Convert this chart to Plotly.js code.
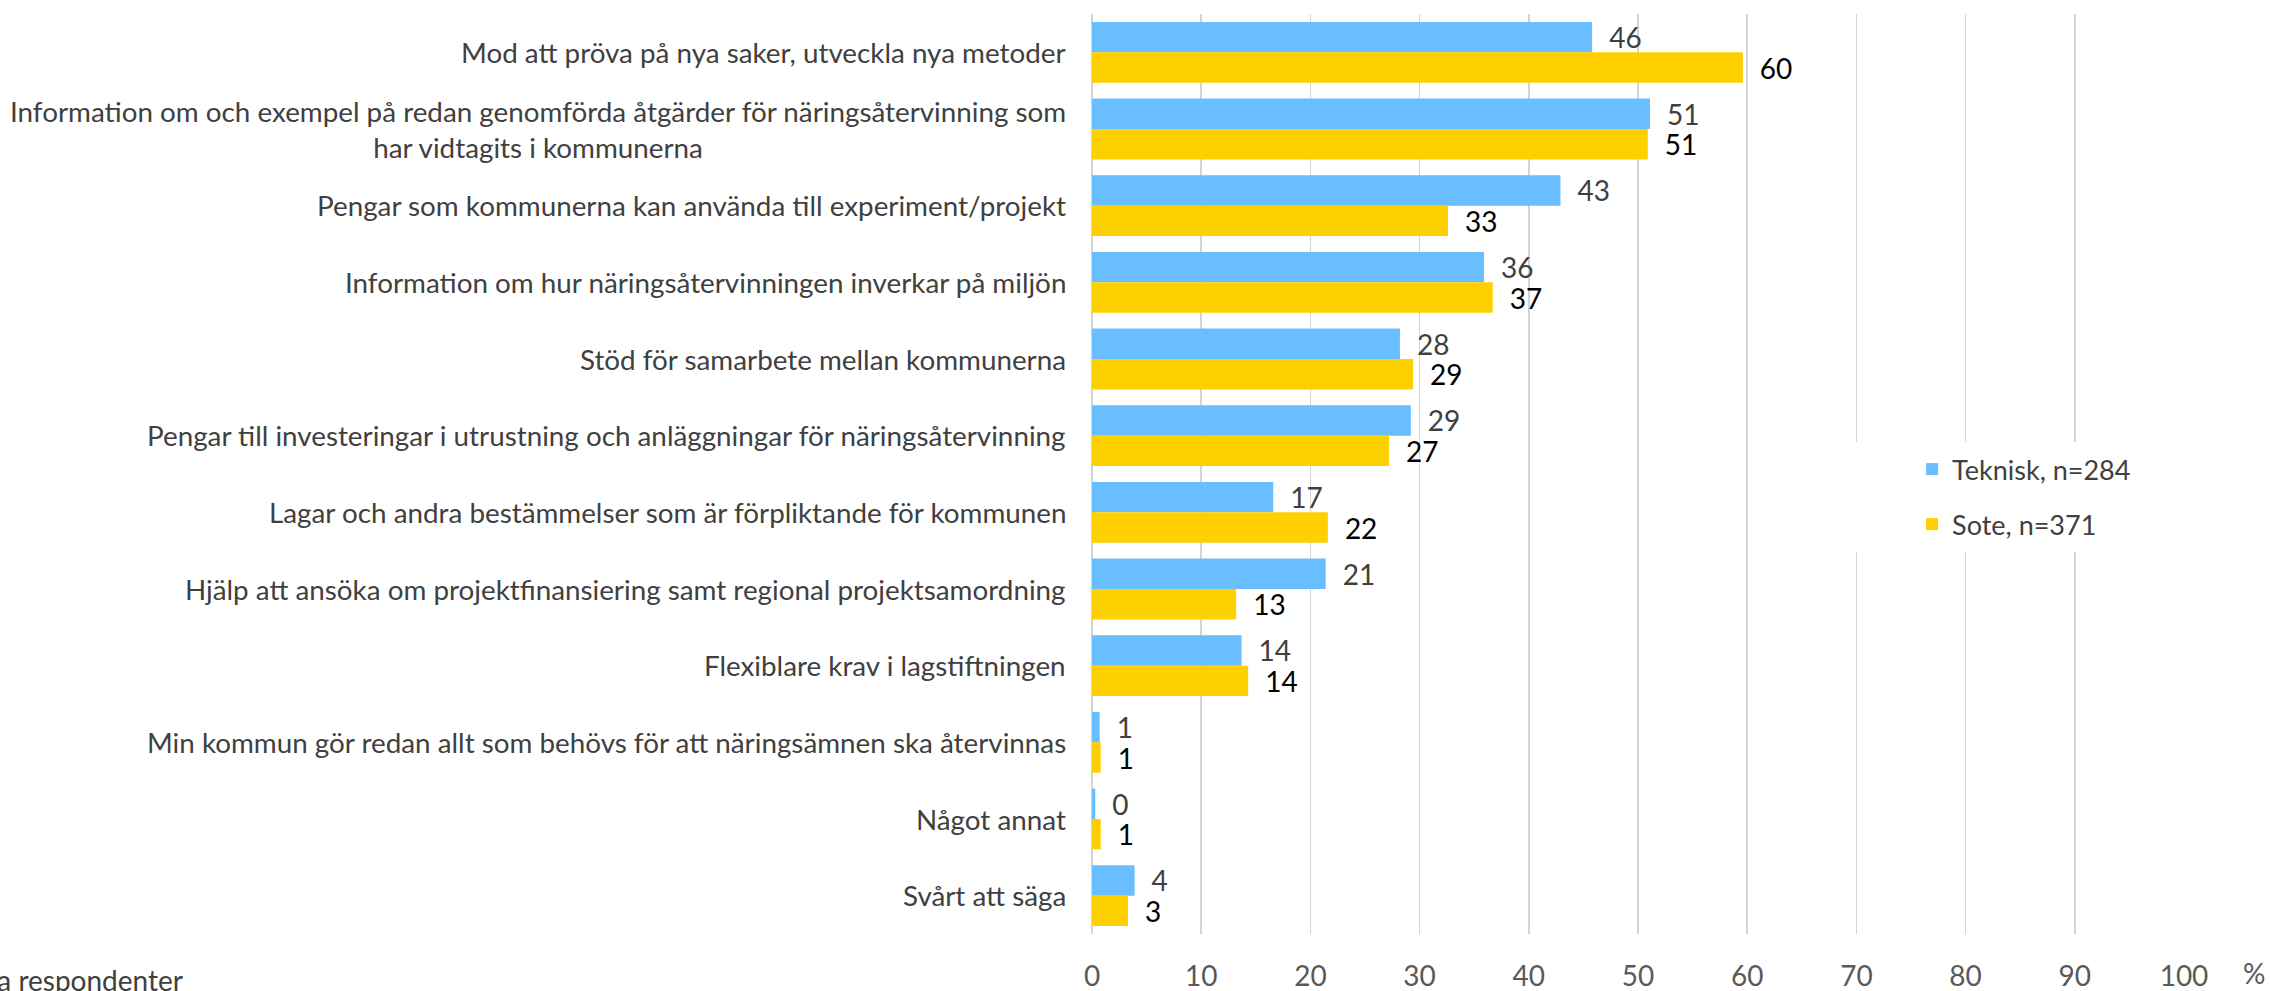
<!DOCTYPE html>
<html>
<head>
<meta charset="utf-8">
<script src="https://cdn.plot.ly/plotly-3.0.1.min.js"></script>
<style>html,body{margin:0;padding:0;background:#fff;}#chart{width:2270px;height:991px;}</style>
</head>
<body>
<div id="chart"></div>
<script>
var categories = [
  "Mod att pröva på nya saker, utveckla nya metoder",
  "Information om och exempel på redan genomförda åtgärder för näringsåtervinning som<br>har vidtagits i kommunerna",
  "Pengar som kommunerna kan använda till experiment/projekt",
  "Information om hur näringsåtervinningen inverkar på miljön",
  "Stöd för samarbete mellan kommunerna",
  "Pengar till investeringar i utrustning och anläggningar för näringsåtervinning",
  "Lagar och andra bestämmelser som är förpliktande för kommunen",
  "Hjälp att ansöka om projektfinansiering samt regional projektsamordning",
  "Flexiblare krav i lagstiftningen",
  "Min kommun gör redan allt som behövs för att näringsämnen ska återvinnas",
  "Något annat",
  "Svårt att säga"
];
var teknisk = [45.8, 51.1, 42.9, 35.9, 28.2, 29.2, 16.6, 21.4, 13.7, 0.7, 0.3, 3.9];
var sote    = [59.6, 50.9, 32.6, 36.7, 29.4, 27.2, 21.6, 13.2, 14.3, 0.8, 0.8, 3.3];
var seriesNames = ["Teknisk, n=284", "Sote, n=371"];
var xTicks = [0, 10, 20, 30, 40, 50, 60, 70, 80, 90, 100];
var unitLabel = "%";
var footLabel = "% av alla respondenter";

var FONT = "Lato, 'Open Sans', sans-serif";
var BLUE = "#69BEFF", YELLOW = "#FFD000";

var traces = [
  {
    type: "bar", orientation: "h", name: seriesNames[0], legendgroup: "a",
    y: categories, x: teknisk,
    marker: {color: BLUE},
    texttemplate: "\u2002%{x:.0f}", textposition: "outside", cliponaxis: false,
    constraintext: "none",
    textfont: {family: FONT, size: 28, color: "#404040"},
    hoverinfo: "x+name"
  },
  {
    type: "bar", orientation: "h", name: seriesNames[1], legendgroup: "b",
    y: categories, x: sote,
    marker: {color: YELLOW},
    texttemplate: "\u2002%{x:.0f}", textposition: "outside", cliponaxis: false,
    constraintext: "none",
    textfont: {family: FONT, size: 28, color: "#000000"},
    hoverinfo: "x+name"
  }
];

var annotations = categories.map(function (c) {
  return {
    xref: "paper", x: 0, xanchor: "right", xshift: -24,
    yref: "y", y: c, yanchor: "middle",
    text: c, align: "center", showarrow: false,
    font: {family: FONT, size: 27.8, color: "#404040"}
  };
});
annotations.push({
  xref: "paper", x: 1.0641, xanchor: "center",
  yref: "paper", y: -0.0424, yanchor: "middle",
  text: unitLabel, showarrow: false,
  font: {family: FONT, size: 28, color: "#595959"}
});
annotations.push({
  xref: "paper", x: -0.8305, xanchor: "right",
  yref: "paper", y: -0.0495, yanchor: "middle",
  text: footLabel, showarrow: false,
  font: {family: FONT, size: 28, color: "#404040"}
});

var layout = {
  width: 2270, height: 991,
  margin: {l: 1092, r: 86, t: 14, b: 57},
  paper_bgcolor: "#ffffff", plot_bgcolor: "#ffffff",
  barmode: "group", bargap: 0.207, bargroupgap: 0,
  font: {family: FONT, size: 28, color: "#404040"},
  xaxis: {
    range: [0, 100], tickvals: xTicks, ticktext: xTicks.map(String),
    showgrid: true, gridcolor: "#d4d4d4", gridwidth: 1.5,
    zeroline: true, zerolinecolor: "#d4d4d4", zerolinewidth: 1.5,
    showline: false, ticks: "", ticklabelstandoff: 23,
    tickfont: {family: FONT, size: 28, color: "#595959"},
    automargin: false, fixedrange: true
  },
  yaxis: {
    type: "category", autorange: "reversed",
    showticklabels: false, showgrid: false, zeroline: false, showline: false,
    ticks: "", automargin: false, fixedrange: true
  },
  showlegend: true,
  legend: {
    x: 0.751, xanchor: "left", y: 0.475, yanchor: "middle",
    orientation: "v", traceorder: "grouped", tracegroupgap: 17,
    bgcolor: "rgba(255,255,255,0)", borderwidth: 0,
    font: {family: FONT, size: 27, color: "#404040"}
  },
  shapes: [{
    type: "rect", layer: "above",
    xref: "paper", x0: 0.6896, x1: 1.0101,
    yref: "paper", y0: 0.4152, y1: 0.5348,
    fillcolor: "#ffffff", line: {width: 0}
  }],
  annotations: annotations
};

Plotly.newPlot("chart", traces, layout, {displayModeBar: false, staticPlot: true});
</script>
</body>
</html>
